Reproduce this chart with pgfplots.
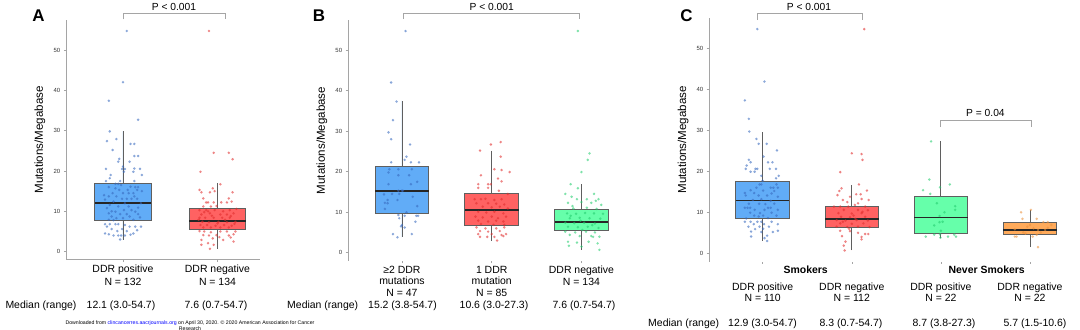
\documentclass[border=0pt]{standalone}
\usepackage{pgfplots}
\pgfplotsset{compat=1.18}
\usepgfplotslibrary{statistics}
\usepackage{fontspec}
\setmainfont{Liberation Sans}
\definecolor{bluebox}{RGB}{97,172,247}
\definecolor{bluedot}{RGB}{55,105,190}
\definecolor{redbox}{RGB}{255,98,98}
\definecolor{reddot}{RGB}{225,45,45}
\definecolor{greenbox}{RGB}{102,255,170}
\definecolor{greendot}{RGB}{35,205,110}
\definecolor{orangebox}{RGB}{255,170,90}
\definecolor{orangedot}{RGB}{235,145,60}
\definecolor{boxline}{RGB}{95,95,95}
\definecolor{axisgray}{RGB}{165,165,165}
\pgfplotsset{
  panel/.style={scale only axis, anchor=south west, ymin=-2, ymax=57.4, xmin=0.4,
    axis lines=left, axis line style={-, axisgray, line width=0.8pt},
    ytick={0,10,20,30,40,50}, tick align=outside, major tick length=2.5pt,
    tick style={axisgray, line width=0.5pt},
    yticklabel style={font=\fontsize{6}{7}\selectfont, text=black!80},
    /pgf/number format/assume math mode=true,
    clip=false, xtick=data,
    ylabel={Mutations/Megabase},
    ylabel style={font=\fontsize{11.6}{13}\selectfont, anchor=center},
    xticklabel style={align=center},
    boxplot/draw direction=y,
    boxplot/every median/.style={draw=black!85, line width=1.6pt},
  },
  bx/.style={fill=#1, draw=boxline, line width=0.9pt},
  dots/.style={only marks, mark=*, mark size=1.2pt, color=#1, mark options={fill opacity=0.55, draw opacity=0.25}},
}
\begin{document}
\begin{tikzpicture}
\useasboundingbox (0,0) rectangle (1080bp,330bp);
% ---------------- Panel A
\begin{axis}[panel, at={(66.3bp,70.3bp)}, width=193.7bp, height=239.6bp, xmax=2.45,
  xtick={1,2}, xticklabels={{DDR positive\\N = 132},{DDR negative\\N = 134}},
  xticklabel style={font=\fontsize{10.5}{13.5}\selectfont, yshift=1pt},
  ylabel style={at={(axis description cs:-0.136,0.5)}}]
\addplot[bx=bluebox, boxplot prepared={draw position=1, lower whisker=3.0, lower quartile=7.7, median=12.1, upper quartile=16.9, upper whisker=29.8, box extend=0.6, whisker extend=0}] coordinates {};
\addplot[bx=redbox, boxplot prepared={draw position=2, lower whisker=0.7, lower quartile=5.4, median=7.6, upper quartile=10.6, upper whisker=16.9, box extend=0.6, whisker extend=0}] coordinates {};
\addplot[dots=bluedot] coordinates {
(1.04,54.7) (1.00,42.0) (0.85,37.4) (1.16,32.7) (0.86,29.8) (0.83,27.4) (0.93,27.9) (1.08,26.7) (1.12,26.7) (0.89,25.2)
(1.12,23.7) (1.16,23.7) (0.96,23.0) (0.95,22.3) (1.07,22.3) (1.00,21.1) (0.99,20.5) (1.02,20.5) (0.82,20.5) (1.12,20.6)
(1.18,20.5) (0.87,19.0) (0.86,18.2) (1.01,19.8) (1.11,19.8) (1.20,19.0) (0.82,17.5) (0.97,17.5) (1.12,17.5) (0.92,16.8)
(0.95,16.8) (0.85,16.0) (0.92,15.7) (1.08,16.1) (1.13,16.0) (1.16,16.0) (1.05,15.3) (0.96,15.3) (1.15,15.3) (0.89,14.5)
(1.00,14.5) (1.06,14.5) (1.11,14.5) (0.85,13.7) (0.93,13.7) (1.12,13.7) (0.99,13.1) (1.04,13.1) (1.09,13.1) (1.15,13.1)
(0.90,12.4) (0.86,11.6) (0.95,11.2) (1.06,11.2) (1.16,10.9) (0.83,10.8) (1.01,10.3) (1.09,10.3) (0.92,9.9) (1.13,9.9)
(0.85,9.5) (0.97,9.3) (1.04,9.3) (1.16,9.3) (0.88,8.7) (1.07,8.7) (0.93,8.3) (1.00,8.3) (0.85,7.9) (1.11,7.9)
(0.80,14.0) (1.19,12.0) (0.81,12.9) (1.20,15.0) (0.88,10.0) (1.02,12.0) (0.98,16.5) (1.18,8.5) (0.90,7.8)
(0.81,6.8) (0.86,6.8) (0.92,6.8) (0.95,6.8) (1.02,6.6) (0.83,6.2) (1.07,6.2) (1.13,6.2) (1.19,6.2) (0.88,5.6)
(0.99,5.6) (0.94,5.1) (1.04,5.1) (0.81,4.5) (1.11,4.5) (0.90,4.0) (0.95,4.0) (0.98,4.0) (1.02,4.0) (0.97,3.0)
(0.85,4.3) (1.15,5.3) (1.08,4.2)
};
\addplot[dots=reddot] coordinates {
(1.91,54.7) (1.96,24.5) (2.12,24.5) (2.16,22.9) (1.82,19.8) (2.03,16.7) (1.95,15.7) (1.81,15.3) (1.97,15.0) (1.83,14.7)
(2.16,14.7) (1.92,14.7) (2.12,13.2) (1.85,13.2) (2.15,12.4) (1.88,12.2) (1.90,12.2) (1.96,12.2) (2.04,12.2) (2.10,12.2)
(1.85,11.2) (1.93,11.2) (1.99,11.3) (1.81,10.3) (1.88,10.3) (1.97,10.3) (2.06,10.0) (2.13,10.3) (2.20,10.6) (1.83,9.2)
(1.92,9.5) (2.03,9.2) (2.10,9.2) (2.17,9.5) (1.81,8.4) (1.87,8.4) (1.96,8.4) (2.05,8.4) (2.13,8.4) (1.84,7.4)
(1.91,7.3) (2.01,7.4) (2.10,7.3) (2.19,7.4) (1.82,6.6) (1.89,6.6) (1.98,6.4) (2.07,6.6) (2.15,6.4) (1.85,6.0)
(1.93,6.0) (2.03,6.0) (2.12,6.0) (1.94,8.9) (2.08,7.9) (1.86,9.8) (2.00,7.0) (2.14,8.8) (1.90,10.0) (2.18,6.9)
(1.80,7.9) (1.81,5.1) (1.86,5.0) (1.93,4.8) (2.03,5.0) (2.10,5.0) (2.19,5.0) (1.85,4.1) (1.91,4.0) (1.99,4.1)
(2.12,4.0) (2.17,4.3) (1.83,2.9) (1.95,3.3) (2.06,2.9) (1.90,2.1) (1.96,1.7) (1.83,1.7) (1.92,0.7) (2.17,2.5)
(2.02,3.6) (2.14,3.5)
};
\draw[axisgray, line width=0.8pt] (axis cs:1.0,57.6) |- (axis cs:2.087,59.1) -- (axis cs:2.087,57.6);
\node[font=\fontsize{10.3}{12}\selectfont] at (axis cs:1.54,60.7) {P < 0.001};
\end{axis}
% ---------------- Panel B
\begin{axis}[panel, at={(348.1bp,69.2bp)}, width=287.2bp, height=240.7bp, xmax=3.6,
  x axis line style={draw=none},
  xtick={1,2,3}, xticklabels={{≥2 DDR\\mutations\\N = 47},{1 DDR\\mutation\\N = 85},{DDR negative\\N = 134}},
  xticklabel style={font=\fontsize{10.5}{11.7}\selectfont, yshift=1pt},
  ylabel style={at={(axis description cs:-0.091,0.5)}}]
\addplot[bx=bluebox, boxplot prepared={draw position=1, lower whisker=3.8, lower quartile=9.7, median=15.2, upper quartile=21.4, upper whisker=37.5, box extend=0.6, whisker extend=0}] coordinates {};
\addplot[bx=redbox, boxplot prepared={draw position=2, lower whisker=3.0, lower quartile=6.8, median=10.6, upper quartile=14.5, upper whisker=25.2, box extend=0.6, whisker extend=0}] coordinates {};
\addplot[bx=greenbox, boxplot prepared={draw position=3, lower whisker=0.7, lower quartile=5.4, median=7.6, upper quartile=10.7, upper whisker=16.9, box extend=0.6, whisker extend=0}] coordinates {};
\addplot[dots=bluedot] coordinates {
(1.04,54.7) (0.88,42.0) (0.94,37.3) (0.90,32.7) (0.85,29.7) (0.88,28.0) (1.09,26.7) (1.05,23.7) (1.03,22.9) (0.88,22.3)
(1.10,22.3) (1.19,22.3) (0.86,20.6) (0.96,20.6) (1.11,20.6) (0.85,19.8) (0.96,19.1) (1.08,19.1) (1.17,17.5) (0.85,16.9)
(1.10,16.9) (0.96,15.3) (1.00,15.3) (1.01,15.3) (0.80,14.4) (0.89,14.5) (0.97,14.5) (1.12,13.8) (0.84,13.0) (0.95,13.0)
(0.81,12.3) (0.84,12.2) (1.17,11.5) (0.81,10.8) (1.05,9.95) (0.96,9.3) (1.03,9.1) (1.16,9.1) (1.18,9.1) (0.97,8.5)
(1.15,7.65) (1.00,6.8) (0.99,6.5) (1.03,6.2) (0.90,4.6) (0.95,3.8) (1.11,4.6)
};
\addplot[dots=reddot] coordinates {
(1.99,26.7) (2.10,27.3) (1.87,25.2) (2.10,23.7) (2.03,20.6) (2.11,20.4) (2.20,19.9) (1.88,19.1) (2.07,18.3) (2.11,17.6)
(1.85,16.9) (1.96,16.9) (1.99,16.9) (1.85,16.0) (1.96,16.0) (2.08,15.3) (2.18,14.5) (1.81,13.2) (1.88,13.2) (1.93,13.3)
(2.03,13.0) (2.11,13.2) (1.83,12.2) (1.96,12.2) (2.05,12.1) (2.14,11.9) (1.90,11.35) (2.00,11.2) (2.09,11.35) (2.18,10.9)
(1.85,10.1) (1.94,9.9) (2.03,10.1) (2.13,9.7) (1.82,8.9) (1.90,8.7) (2.00,8.9) (2.07,8.5) (2.16,8.9) (1.85,7.9)
(1.96,7.7) (2.05,7.9) (2.13,7.7) (1.88,7.07) (2.02,6.9) (2.14,6.9) (1.83,6.25) (1.93,6.0) (2.05,6.0) (2.14,6.25)
(1.87,5.35) (1.96,5.2) (2.09,5.35) (1.85,4.6) (2.00,4.6) (2.11,4.35) (2.16,4.6) (1.87,3.9) (1.95,3.9) (2.03,3.9)
(2.13,4.1) (2.06,3.0)
};
\addplot[dots=greendot] coordinates {
(2.96,54.7) (3.09,24.5) (3.07,22.9) (3.00,19.9) (2.88,16.9) (2.96,15.9) (2.82,14.5) (2.89,13.8) (2.95,13.2) (3.06,13.2)
(3.14,14.5) (3.19,13.2) (2.85,12.3) (3.00,12.5) (3.11,12.3) (3.22,11.8) (2.91,10.9) (3.06,11.1) (3.17,10.8) (2.84,9.7)
(2.94,9.6) (3.04,9.8) (3.14,9.7) (3.24,9.6) (2.87,8.5) (2.98,8.6) (3.09,8.5) (3.21,8.4) (2.82,7.4) (2.92,7.3)
(3.03,7.4) (3.15,7.2) (2.85,6.4) (2.96,6.3) (3.07,6.4) (3.19,6.1) (2.82,5.2) (2.93,5.0) (3.05,5.2) (3.15,5.0)
(2.87,4.4) (2.98,4.1) (3.11,4.1) (3.20,3.95) (2.85,2.7) (2.95,2.5) (3.08,2.7) (3.18,2.3) (2.86,1.7) (3.00,1.5)
(3.20,0.7) (3.13,3.9) (2.90,11.5) (3.12,6.8) (2.99,7.9) (3.01,5.6) (2.88,9.1) (3.16,12.8)
};
\draw[axisgray, line width=0.8pt] (axis cs:1.02,57.65) |- (axis cs:2.98,59.06) -- (axis cs:2.98,57.65);
\node[font=\fontsize{10.3}{12}\selectfont] at (axis cs:2.0,60.6) {P < 0.001};
\end{axis}
% ---------------- Panel C
\begin{axis}[panel, at={(709.2bp,68.5bp)}, width=369.8bp, height=243.5bp, xmax=4.55,
  x axis line style={draw=none},
  xtick={1,2,3,4}, xticklabels={{DDR positive\\N = 110},{DDR negative\\N = 112},{DDR positive\\N = 22},{DDR negative\\N = 22}},
  xticklabel style={font=\fontsize{10.5}{11}\selectfont, yshift=-15.5pt},
  ylabel style={at={(axis description cs:-0.0708,0.5)}}]
\addplot[bx=bluebox, boxplot prepared={draw position=1, lower whisker=3.0, lower quartile=8.5, median=12.9, upper quartile=17.5, upper whisker=29.5, box extend=0.6, whisker extend=0}] coordinates {};
\addplot[bx=redbox, boxplot prepared={draw position=2, lower whisker=0.7, lower quartile=6.2, median=8.3, upper quartile=11.4, upper whisker=16.7, box extend=0.6, whisker extend=0}] coordinates {};
\addplot[bx=greenbox, boxplot prepared={draw position=3, lower whisker=3.8, lower quartile=4.9, median=8.7, upper quartile=13.8, upper whisker=27.3, box extend=0.6, whisker extend=0}] coordinates {};
\addplot[bx=orangebox, boxplot prepared={draw position=4, lower whisker=1.5, lower quartile=4.6, median=5.7, upper quartile=7.6, upper whisker=10.6, box extend=0.6, whisker extend=0}] coordinates {};
\addplot[dots=bluedot] coordinates {
(0.94,54.7) (1.02,41.9) (0.80,37.3) (0.845,32.8) (0.85,29.7) (0.93,27.9) (0.955,26.7) (1.045,26.7) (1.01,23.6) (1.16,25.1)
(0.845,22.8) (0.865,22.2) (1.06,22.2) (1.11,22.2) (0.82,21.4) (0.81,20.6) (0.92,20.6) (0.94,20.6) (1.08,20.6) (1.15,20.6)
(0.865,19.9) (0.91,19.9) (1.18,18.9) (1.15,18.3) (0.985,18.9) (1.00,17.7) (0.965,16.8) (0.985,16.8) (1.155,16.8) (0.93,16.0)
(1.09,16.0) (1.12,16.0) (1.17,16.0) (0.865,15.4) (1.005,15.3) (1.13,15.2) (0.80,14.7) (0.905,14.7) (1.10,14.6) (0.81,14.1)
(0.955,14.1) (1.05,14.1) (1.17,13.8) (0.89,13.0) (0.985,13.2) (1.09,12.8) (0.845,12.1) (0.96,12.1) (1.03,12.0) (1.13,12.1)
(0.80,11.1) (0.83,11.1) (0.86,11.1) (1.06,11.1) (1.09,11.1) (0.91,10.6) (1.02,10.6) (1.17,10.6) (0.86,9.9) (0.97,9.8)
(1.10,9.9) (0.905,9.2) (1.005,9.2) (1.155,9.2) (0.955,9.0) (0.815,8.5) (1.06,8.6) (0.80,7.7) (0.865,7.7) (0.94,7.7)
(0.985,7.7) (1.10,7.7) (0.90,7.1) (1.015,7.1) (1.17,7.1) (0.84,6.5) (0.965,6.5) (1.07,6.5) (0.915,5.9) (1.005,6.0)
(0.87,5.3) (0.985,5.2) (1.115,5.2) (1.17,5.5) (1.05,4.3) (0.87,4.1) (1.02,3.7) (1.05,3.0)
};
\addplot[dots=reddot] coordinates {
(2.14,54.7) (2.00,24.4) (2.11,24.2) (2.12,22.8) (1.87,19.8) (1.885,15.85) (1.86,15.2) (2.08,16.8) (2.17,15.3) (1.84,14.2)
(2.05,14.4) (2.10,14.4) (1.98,13.8) (1.90,13.0) (2.11,13.25) (2.19,13.0) (2.07,12.2) (2.035,11.8) (1.87,11.4) (1.80,11.4)
(1.96,11.4) (2.15,11.4) (1.91,10.6) (2.07,10.6) (2.18,10.5) (1.85,9.8) (2.00,9.7) (2.11,9.8) (1.88,8.9) (1.98,8.8)
(2.15,8.9) (1.83,8.1) (1.93,8.0) (2.055,8.1) (2.18,8.0) (1.87,7.3) (2.00,7.2) (2.13,7.3) (1.83,6.5) (1.95,6.4)
(2.07,6.5) (2.20,6.4) (1.87,5.5) (1.98,5.4) (2.07,5.0) (2.15,4.7) (2.185,4.7) (1.89,4.2) (2.11,3.4) (1.93,2.85)
(1.91,1.87) (1.92,0.7) (2.11,4.0) (1.95,12.5) (2.02,9.2) (1.90,7.7) (2.12,10.1) (1.97,6.0) (2.04,8.4)
};
\addplot[dots=greendot] coordinates {
(2.89,27.3) (2.87,18.0) (3.10,16.8) (2.99,16.1) (2.80,15.4) (2.88,14.5) (2.955,12.2) (3.16,11.5) (3.16,10.6) (3.04,10.0)
(2.985,9.1) (3.02,7.7) (2.985,7.6) (2.925,6.8) (3.00,5.5) (2.925,4.55) (2.83,4.07) (2.99,4.6) (3.08,4.07) (3.15,4.55)
(3.17,4.07) (2.995,3.8)
};
\addplot[dots=orangedot] coordinates {
(4.01,10.6) (3.90,10.0) (3.915,8.4) (4.075,8.4) (4.00,6.9) (4.15,7.6) (4.20,7.6) (3.83,5.85) (4.04,6.1) (4.09,5.7)
(4.17,5.7) (4.12,5.1) (3.925,5.1) (4.03,4.07) (3.83,4.07) (3.85,4.07) (4.075,4.5) (4.20,6.2) (3.97,6.5) (4.09,1.5)
(4.24,6.9) (3.95,4.8)
};
\draw[axisgray, line width=0.8pt] (axis cs:0.936,56.9) |- (axis cs:2.118,58.4) -- (axis cs:2.118,56.9);
\node[font=\fontsize{10.3}{12}\selectfont] at (axis cs:1.52,60.1) {P < 0.001};
\draw[axisgray, line width=0.8pt] (axis cs:2.99,30.8) |- (axis cs:4.02,32.3) -- (axis cs:4.02,30.8);
\node[font=\fontsize{10.3}{12}\selectfont] at (axis cs:3.5,34.3) {P = 0.04};
\end{axis}
% ---------------- free text
\node[font=\fontsize{17}{20}\selectfont\bfseries] at (38.5bp,314bp) {A};
\node[font=\fontsize{17}{20}\selectfont\bfseries] at (319bp,314bp) {B};
\node[font=\fontsize{17}{20}\selectfont\bfseries] at (686.5bp,314.5bp) {C};
\node[font=\fontsize{10.5}{12}\selectfont\bfseries] at (805.7bp,60bp) {Smokers};
\node[font=\fontsize{10.5}{12}\selectfont\bfseries] at (986.7bp,60bp) {Never Smokers};
\begin{scope}[every node/.style={font=\fontsize{10.5}{12}\selectfont, inner sep=0pt}]
\node at (41bp,24bp) {Median (range)};
\node at (121bp,24bp) {12.1 (3.0-54.7)};
\node at (216bp,24bp) {7.6 (0.7-54.7)};
\node at (322.7bp,24bp) {Median (range)};
\node at (402.5bp,24bp) {15.2 (3.8-54.7)};
\node at (494bp,24bp) {10.6 (3.0-27.3)};
\node at (584bp,24bp) {7.6 (0.7-54.7)};
\node at (683.7bp,6.7bp) {Median (range)};
\node at (762.5bp,6.7bp) {12.9 (3.0-54.7)};
\node at (851bp,6.7bp) {8.3 (0.7-54.7)};
\node at (944bp,6.7bp) {8.7 (3.8-27.3)};
\node at (1035bp,6.7bp) {5.7 (1.5-10.6)};
\end{scope}
\node[font=\fontsize{5.2}{5.6}\selectfont, align=center, inner sep=0pt, anchor=north] at (190bp,9.5bp) {Downloaded from {\color{blue}clincancerres.aacrjournals.org} on April 30, 2020. © 2020 American Association for Cancer\\Research};
\end{tikzpicture}
\end{document}
